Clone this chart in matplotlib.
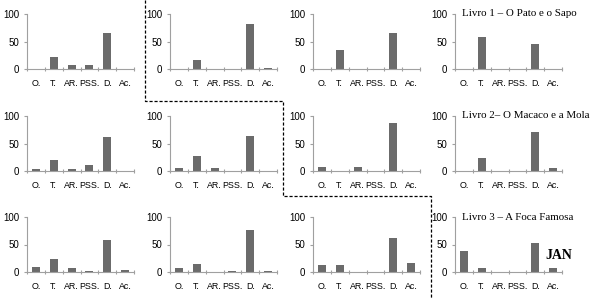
import numpy as np
import matplotlib.pyplot as plt
from matplotlib.lines import Line2D

# categories on the x axis
cats = ['O.', 'T.', 'AR.', 'PSS.', 'D.', 'Ac.']

# one list per small chart, four charts per book (row)
livro1 = [[0, 21, 8, 8, 66, 0],
          [0, 17, 0, 0, 82, 1],
          [0, 35, 0, 0, 66, 0],
          [0, 59, 0, 0, 46, 0]]
livro2 = [[4, 20, 4, 11, 62, 0],
          [5, 27, 5, 0, 64, 0],
          [7, 0, 7, 0, 87, 0],
          [0, 24, 0, 0, 71, 5]]
livro3 = [[10, 23, 8, 2, 58, 4],
          [8, 15, 0, 2, 76, 2],
          [12, 13, 0, 0, 62, 17],
          [39, 8, 0, 0, 53, 8]]
titles = ['Livro 1 \u2013 O Pato e o Sapo',
          'Livro 2\u2013 O Macaco e a Mola',
          'Livro 3 \u2013 A Foca Famosa']
yticks = [0, 50, 100]

W, H = 593, 299
fig = plt.figure(figsize=(W / 100, H / 100), dpi=100)
fig.patch.set_facecolor('white')

col_left = [27, 170, 313, 455]
ax_w = 107
row_top = [14, 116, 217]
ax_h = 55

bar_col = '#6b6b6b'
axis_col = '#a0a0a0'
lab_font = 'Liberation Sans'

rows = [livro1, livro2, livro3]
for r, book in enumerate(rows):
    for c, vals in enumerate(book):
        left = col_left[c] / W
        bottom = 1 - (row_top[r] + ax_h) / H
        ax = fig.add_axes([left, bottom, ax_w / W, ax_h / H])
        x = np.arange(len(cats))
        ax.bar(x, vals, width=0.45, color=bar_col)
        ax.set_xlim(-0.5, len(cats) - 0.5)
        ax.set_ylim(0, 100)
        for s in ['top', 'right']:
            ax.spines[s].set_visible(False)
        for s in ['left', 'bottom']:
            ax.spines[s].set_color(axis_col)
            ax.spines[s].set_linewidth(0.8)
        ax.set_yticks(yticks)
        ax.set_yticklabels([str(v) for v in yticks], fontsize=7, family=lab_font)
        ax.set_xticks(x)
        ax.set_xticklabels(cats, fontsize=6.4, family=lab_font)
        ax.set_xticks(np.arange(-0.5, len(cats)), minor=True)
        ax.tick_params(axis='x', which='major', length=0, pad=7)
        ax.tick_params(axis='x', which='minor', length=3, direction='inout', color=axis_col, width=0.8)
        ax.tick_params(axis='y', length=2.5, color=axis_col, width=0.8, pad=3)
        if c == 3:
            ax.text(0.065, 1.0, titles[r], transform=ax.transAxes, ha='left', va='center',
                    fontsize=7.9, family='Liberation Serif', clip_on=False)
        if r == 2 and c == 3:
            ax.text(0.97, 0.3, 'JAN', transform=ax.transAxes, ha='center', va='center',
                    fontsize=10, family='Liberation Serif', fontweight='bold')

# dashed separator between charts
px = [145, 145, 283, 283, 431, 431]
py = [0, 101, 101, 196, 196, 299]
fig.add_artist(Line2D([p / W for p in px], [1 - p / H for p in py],
                      transform=fig.transFigure, color='black', lw=0.9,
                      linestyle=(0, (2.5, 1.5))))

fig.savefig('out.png', dpi=100)
